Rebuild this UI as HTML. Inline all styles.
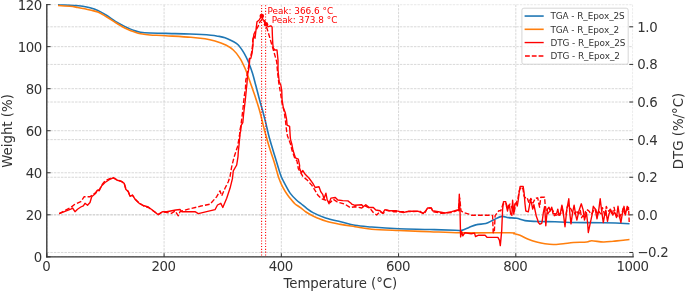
<!DOCTYPE html><html><head><meta charset="utf-8"><title>TGA / DTG</title><style>html,body{margin:0;padding:0;background:#fff}svg{display:block}</style></head><body><svg width="685" height="291" viewBox="0 0 685 291">
<rect width="685" height="291" fill="#fff"/>
<defs><clipPath id="ax"><rect x="46.85" y="4.6" width="586.2" height="252.25"/></clipPath></defs>
<g stroke="#c4c4c4" stroke-width="0.67" stroke-dasharray="2.46 1.07" fill="none" clip-path="url(#ax)">
<line x1="46.85" y1="4.6" x2="46.85" y2="256.85"/>
<line x1="164.09" y1="4.6" x2="164.09" y2="256.85"/>
<line x1="281.33" y1="4.6" x2="281.33" y2="256.85"/>
<line x1="398.57" y1="4.6" x2="398.57" y2="256.85"/>
<line x1="515.81" y1="4.6" x2="515.81" y2="256.85"/>
<line x1="633.05" y1="4.6" x2="633.05" y2="256.85"/>
<line x1="46.8" y1="256.85" x2="633" y2="256.85"/>
<line x1="46.8" y1="214.81" x2="633" y2="214.81"/>
<line x1="46.8" y1="172.77" x2="633" y2="172.77"/>
<line x1="46.8" y1="130.73" x2="633" y2="130.73"/>
<line x1="46.8" y1="88.69" x2="633" y2="88.69"/>
<line x1="46.8" y1="46.65" x2="633" y2="46.65"/>
<line x1="46.8" y1="4.61" x2="633" y2="4.61"/>
<line x1="46.8" y1="252.47" x2="633" y2="252.47"/>
<line x1="46.8" y1="214.86" x2="633" y2="214.86"/>
<line x1="46.8" y1="177.25" x2="633" y2="177.25"/>
<line x1="46.8" y1="139.64" x2="633" y2="139.64"/>
<line x1="46.8" y1="102.02" x2="633" y2="102.02"/>
<line x1="46.8" y1="64.41" x2="633" y2="64.41"/>
<line x1="46.8" y1="26.80" x2="633" y2="26.80"/>
</g>
<path d="M58.0,4.9 C59.0,4.9 62.0,5.0 64.0,5.0 C66.0,5.0 68.0,5.1 70.0,5.2 C72.0,5.3 73.9,5.4 76.0,5.6 C78.1,5.8 80.4,5.8 82.7,6.2 C85.0,6.6 87.5,7.1 90.0,7.8 C92.5,8.5 95.1,9.3 97.8,10.5 C100.5,11.7 103.1,13.2 106.0,15.0 C108.9,16.8 112.7,19.7 115.4,21.4 C118.1,23.1 119.9,23.9 122.0,25.0 C124.1,26.1 126.0,27.1 128.0,28.0 C130.0,28.9 131.9,29.8 134.0,30.5 C136.1,31.2 137.8,31.8 140.5,32.2 C143.2,32.6 145.8,32.8 150.0,33.0 C154.2,33.2 158.9,33.2 165.6,33.4 C172.3,33.6 182.4,33.7 190.0,34.0 C197.6,34.3 206.3,34.8 211.0,35.2 C215.7,35.6 215.7,35.8 218.0,36.2 C220.3,36.6 222.6,36.9 225.0,37.7 C227.4,38.5 230.5,40.0 232.7,41.2 C234.9,42.4 236.4,43.0 238.3,45.0 C240.2,47.0 242.5,50.5 244.2,53.3 C245.9,56.1 246.9,58.4 248.3,61.7 C249.7,65.0 251.3,69.4 252.5,73.3 C253.7,77.2 254.5,80.5 255.7,85.0 C256.9,89.5 258.4,95.4 259.6,100.0 C260.8,104.6 262.0,108.3 263.1,112.5 C264.2,116.7 265.4,121.3 266.3,125.1 C267.2,128.8 267.7,131.4 268.6,135.0 C269.5,138.6 270.7,142.6 271.9,146.6 C273.1,150.6 274.6,155.4 275.7,159.1 C276.8,162.8 277.8,166.1 278.7,169.0 C279.6,171.9 280.2,174.2 281.3,176.8 C282.4,179.4 283.6,181.6 285.1,184.3 C286.6,187.0 288.2,190.5 290.1,193.1 C292.0,195.7 294.5,198.2 296.4,200.0 C298.3,201.8 299.7,202.6 301.4,204.0 C303.1,205.4 304.8,206.9 306.7,208.3 C308.6,209.7 309.9,211.0 313.0,212.6 C316.1,214.2 321.0,216.5 325.6,218.0 C330.2,219.5 335.8,220.6 340.7,221.8 C345.6,223.0 349.8,224.4 355.0,225.3 C360.2,226.2 364.4,226.4 371.7,227.0 C379.0,227.6 389.0,228.3 398.7,228.7 C408.4,229.1 420.6,229.2 430.0,229.5 C439.4,229.8 449.7,230.2 455.0,230.3 C460.3,230.5 459.4,230.9 461.7,230.4 C464.0,229.9 466.5,228.5 469.0,227.5 C471.5,226.5 473.9,225.2 476.7,224.6 C479.5,223.9 483.0,224.4 485.8,223.6 C488.6,222.8 490.7,221.2 493.3,220.0 C495.9,218.8 499.2,216.8 501.7,216.4 C504.2,216.0 505.8,217.3 508.3,217.6 C510.8,217.9 513.9,217.8 516.7,218.3 C519.5,218.8 521.4,220.1 525.0,220.6 C528.6,221.1 533.3,221.3 538.3,221.5 C543.3,221.7 549.7,221.6 555.0,221.8 C560.3,222.0 562.0,222.3 570.0,222.5 C578.0,222.7 593.4,222.6 603.3,222.8 C613.2,223.0 625.1,223.5 629.5,223.7" fill="none" stroke="#1f77b4" stroke-width="1.6" stroke-linejoin="round"/>
<path d="M58.0,5.5 C60.0,5.6 66.7,6.0 70.0,6.3 C73.3,6.6 74.4,6.9 77.7,7.5 C81.0,8.1 86.7,9.2 90.0,10.0 C93.3,10.8 95.1,10.9 97.8,12.0 C100.5,13.1 103.1,14.8 106.0,16.5 C108.9,18.2 112.7,20.8 115.4,22.5 C118.1,24.2 119.9,25.3 122.0,26.5 C124.1,27.7 126.0,28.6 128.0,29.5 C130.0,30.4 131.9,31.1 134.0,31.8 C136.1,32.5 137.8,33.2 140.5,33.7 C143.2,34.2 145.8,34.7 150.0,35.0 C154.2,35.3 158.8,35.3 165.6,35.7 C172.4,36.1 184.2,36.7 190.8,37.2 C197.4,37.7 201.0,38.2 205.0,38.8 C209.0,39.4 211.5,40.0 215.0,41.0 C218.5,42.0 222.8,43.5 225.8,45.0 C228.9,46.5 230.9,47.8 233.3,50.0 C235.7,52.2 238.1,55.2 240.0,58.3 C241.9,61.3 243.3,64.4 245.0,68.3 C246.7,72.2 248.6,77.8 250.0,81.7 C251.4,85.7 252.5,89.0 253.6,92.0 C254.7,95.0 255.2,96.6 256.3,100.0 C257.4,103.4 259.0,108.3 260.1,112.5 C261.2,116.7 262.2,121.3 263.2,125.1 C264.1,128.8 264.8,131.4 265.8,135.0 C266.8,138.6 267.9,142.6 269.1,146.6 C270.3,150.6 272.0,155.4 273.2,159.1 C274.4,162.8 275.3,165.8 276.2,169.0 C277.1,172.2 277.7,175.0 278.8,178.0 C279.9,181.0 281.1,184.0 282.6,186.8 C284.1,189.6 286.0,192.7 287.6,195.0 C289.2,197.3 290.8,199.1 292.0,200.6 C293.2,202.1 293.7,202.8 295.1,204.0 C296.5,205.2 298.7,206.3 300.5,207.6 C302.3,208.9 303.9,210.6 306.0,212.0 C308.1,213.4 309.7,214.4 313.0,215.9 C316.3,217.4 321.0,219.5 325.6,220.9 C330.2,222.3 335.8,223.4 340.7,224.4 C345.6,225.4 349.8,225.9 355.0,226.7 C360.2,227.5 364.4,228.6 371.7,229.2 C379.0,229.8 389.0,230.1 398.7,230.5 C408.4,230.9 419.5,231.3 430.0,231.7 C440.5,232.1 448.4,232.6 461.7,232.8 C475.0,233.0 500.9,232.7 509.6,232.8 C518.3,232.9 512.3,233.2 514.0,233.6 C515.7,234.0 517.6,234.4 520.0,235.3 C522.4,236.2 525.5,238.1 528.3,239.2 C531.1,240.3 533.9,241.2 536.7,242.0 C539.5,242.8 542.2,243.4 545.0,243.8 C547.8,244.2 550.2,244.5 553.3,244.5 C556.3,244.5 560.0,244.0 563.3,243.7 C566.6,243.4 569.4,242.8 573.3,242.5 C577.2,242.2 583.6,242.3 586.7,242.0 C589.8,241.7 588.9,240.8 591.7,240.8 C594.5,240.8 599.7,241.9 603.3,242.0 C606.9,242.1 610.0,241.5 613.3,241.2 C616.6,240.9 620.6,240.6 623.3,240.3 C626.0,240.0 628.5,239.6 629.5,239.5" fill="none" stroke="#ff7f0e" stroke-width="1.6" stroke-linejoin="round"/>
<polyline points="59.2,213.7 65.0,211.3 70.8,209.2 72.5,208.0 75.0,211.7 77.5,209.2 80.8,207.0 83.3,205.8 85.0,203.3 87.5,205.3 90.0,202.5 91.7,196.7 95.8,193.3 97.5,190.0 99.2,190.8 101.7,185.8 105.0,182.5 109.2,179.7 113.3,177.8 116.7,180.0 121.7,181.7 124.2,183.3 125.8,189.2 128.3,191.7 130.0,196.3 132.5,195.0 135.0,199.2 139.2,203.3 143.3,205.5 148.3,207.0 153.3,210.8 158.3,214.7 162.5,211.7 166.7,211.7 175.8,210.0 180.0,209.5 181.7,211.7 195.0,211.7 198.3,213.7 215.0,209.7 217.5,205.0 220.8,203.3 222.8,207.5 226.7,198.3 230.0,188.3 232.5,178.3 233.3,170.8 236.7,165.0 238.0,156.7 238.3,151.7 239.2,143.3 240.0,135.0 239.4,136.0 240.6,131.4 241.3,125.1 242.8,122.6 243.5,115.0 244.4,107.5 245.3,100.0 246.3,90.0 247.0,83.3 247.5,75.0 249.2,66.7 249.7,59.2 250.8,58.3 252.0,53.3 253.0,45.0 253.0,40.0 253.7,35.8 255.0,38.3 255.8,31.7 257.0,21.7 259.2,20.0 261.3,16.3 263.3,20.0 265.0,20.8 265.8,24.7 268.3,26.7 270.8,25.8 272.1,27.0 272.4,36.0 272.8,44.0 273.3,48.0 274.7,50.0 277.0,50.0 278.0,60.0 278.0,70.0 279.2,81.7 280.8,85.0 281.7,90.0 282.1,100.0 283.3,107.5 285.2,112.5 286.5,118.8 287.1,125.1 289.6,126.4 290.2,136.0 290.5,139.4 291.8,144.0 293.0,150.3 295.4,157.8 298.3,159.1 299.6,165.4 299.5,168.0 301.4,173.0 302.7,170.5 305.2,174.3 308.9,178.0 312.7,183.1 315.2,187.5 319.0,186.8 320.9,191.9 322.7,194.4 324.0,198.8 325.9,193.1 327.1,199.4 329.0,203.8 330.9,198.1 335.3,197.5 337.8,200.0 342.8,200.6 347.9,200.9 351.0,203.2 351.7,204.2 355.0,205.3 361.7,204.7 363.3,206.7 365.8,204.7 369.2,207.5 373.3,207.5 375.8,210.0 380.0,210.8 382.5,213.3 385.0,209.7 388.3,210.8 396.7,210.8 403.3,212.5 408.3,211.3 418.3,211.3 423.3,213.3 425.8,210.8 427.5,208.0 431.3,208.0 432.5,210.8 438.3,211.7 445.0,213.0 451.7,211.7 457.5,210.0 458.7,210.8 459.3,194.2 460.0,210.0 460.6,236.9 461.7,231.6 462.8,235.9 464.9,232.7 471.3,233.7 474.5,233.1 475.5,236.5 478.7,235.2 485.1,235.2 487.2,237.4 497.9,237.4 499.4,240.1 500.3,245.6 501.7,230.6 502.6,209.3 503.5,201.6 505.7,201.6 506.5,206.6 507.5,211.0 508.6,205.3 509.8,207.8 510.7,214.1 511.9,215.4 512.6,200.3 513.8,214.1 514.8,204.1 516.3,202.8 517.3,206.0 518.2,200.3 519.1,192.8 520.1,186.5 523.2,186.5 524.1,192.8 524.9,202.8 525.8,211.0 528.3,211.9 529.5,205.3 530.5,199.1 531.7,204.1 532.7,209.1 533.9,204.7 535.2,211.0 536.4,216.6 537.7,220.0 538.3,222.5 540.0,224.2 541.7,223.3 542.4,220.0 543.3,212.9 544.6,206.6 545.2,215.4 545.8,225.8 546.5,217.9 547.5,209.1 549.0,207.2 550.2,211.0 551.7,207.2 553.0,213.5 556.5,213.9 557.8,209.1 559.0,215.4 560.0,215.1 561.9,205.1 563.1,211.3 565.0,226.7 566.9,208.8 568.8,198.8 570.0,215.1 571.0,223.9 572.6,212.6 574.1,205.1 575.7,215.1 576.9,220.1 578.8,211.3 581.3,203.8 583.2,210.1 584.5,220.1 586.4,212.6 587.6,222.6 588.3,232.5 590.1,223.9 592.0,215.1 593.3,206.3 595.2,208.8 597.0,218.9 598.9,208.8 600.2,198.8 601.4,208.8 603.3,222.6 604.6,215.1 605.8,210.1 607.5,221.4 609.0,213.9 610.9,210.1 612.7,215.1 614.6,212.0 616.5,217.6 618.0,206.3 619.3,215.1 620.9,222.6 622.5,212.6 624.0,206.3 625.3,215.1 627.2,206.3 628.8,210.1" fill="none" stroke="#ff0000" stroke-width="1.38" stroke-linejoin="round"/>
<polyline points="59.2,213.7 65.0,210.5 70.8,207.5 74.2,204.7 80.8,201.7 84.2,196.7 90.0,196.7 92.5,194.7 95.8,192.5 97.5,189.5 99.2,190.0 101.7,185.0 105.0,180.8 109.2,178.8 112.5,177.3 116.7,179.5 121.7,181.5 124.2,183.5 125.8,188.5 128.3,191.5 130.0,196.0 132.5,195.3 135.0,199.0 139.2,203.0 143.3,205.8 148.3,207.5 153.3,211.0 158.3,214.3 162.5,211.9 171.7,213.3 175.0,211.0 178.3,215.8 180.0,211.7 188.3,209.2 200.0,206.3 210.0,204.2 216.7,196.7 220.0,190.8 221.7,195.8 225.0,188.3 228.3,181.7 230.0,176.7 231.7,166.7 234.2,156.7 237.5,146.7 239.5,136.0 240.0,130.0 241.0,125.0 242.0,116.7 243.2,106.7 244.2,96.7 245.5,88.0 245.8,80.0 247.0,75.0 248.6,66.7 249.2,59.2 250.4,57.0 251.5,53.3 252.6,45.0 252.8,40.0 254.0,34.0 256.0,30.0 258.0,26.7 260.0,21.7 262.5,19.2 264.5,22.0 265.8,25.0 267.5,30.0 269.2,35.8 271.0,42.0 272.5,47.0 274.2,53.0 276.7,61.7 277.5,71.7 278.8,83.0 280.0,90.0 280.8,95.0 282.0,103.0 284.2,111.7 285.5,121.0 286.7,131.7 287.5,136.0 288.8,139.4 290.5,144.0 292.0,150.3 294.6,157.8 297.0,161.0 298.3,168.6 302.7,176.2 307.7,180.6 312.1,185.6 315.2,190.6 317.7,195.0 321.5,198.8 325.3,200.0 330.3,202.5 333.4,199.4 337.2,201.9 345.0,204.2 350.0,207.5 355.0,206.7 361.7,208.0 365.0,205.8 370.0,208.3 373.3,212.5 376.7,215.0 380.0,211.7 383.3,213.3 386.7,210.0 393.3,211.7 403.3,211.7 420.0,211.3 424.2,214.2 427.5,208.0 431.3,208.0 433.3,211.7 441.7,213.3 451.7,212.5 458.3,210.0 459.7,198.0 461.0,210.8 463.3,212.5 469.0,214.2 471.7,215.3 491.7,215.3 492.6,215.7 493.2,232.7 494.3,232.7 495.1,215.7 498.7,210.8 500.8,210.8 503.0,204.0 506.0,203.0 508.0,209.0 510.0,204.0 512.0,208.0 514.0,212.0 516.0,204.0 518.0,198.0 519.5,190.0 521.0,187.0 523.0,189.0 524.0,196.0 525.1,197.8 527.0,197.2 528.9,202.8 530.8,198.4 533.0,203.0 535.2,198.4 537.7,197.8 538.9,204.1 539.6,207.2 540.8,197.2 544.6,197.2 545.2,205.3 546.5,211.3 547.8,213.8 549.1,211.9 550.4,211.1 551.7,208.8 553.0,210.7 554.3,215.7 555.6,214.6 556.9,216.5 558.2,214.2 559.5,214.1 560.8,213.4 562.1,206.8 563.4,213.9 564.7,214.4 566.0,214.6 567.3,207.0 568.6,205.0 569.9,207.4 571.2,209.5 572.5,212.6 573.8,212.2 575.1,214.1 576.4,210.5 577.7,212.9 579.0,213.8 580.3,210.4 581.6,217.7 582.9,215.6 584.2,217.3 585.5,211.4 586.8,209.5 588.1,210.4 589.4,211.5 590.7,214.3 592.0,213.6 593.3,211.1 594.6,208.7 595.9,209.6 597.2,215.8 598.5,210.4 599.8,212.7 601.1,213.9 602.4,207.6 603.7,211.3 605.0,216.6 606.3,206.4 607.6,209.7 608.9,211.3 610.2,209.2 611.5,213.2 612.8,212.3 614.1,207.3 615.4,213.9 616.7,215.0 618.0,216.2 619.3,218.3 620.6,215.0 621.9,213.4 623.2,208.1 624.5,213.4 625.8,210.5 627.1,210.3 628.4,207.4 628.6,208.0 629.2,222.0" fill="none" stroke="#ff0000" stroke-width="1.38" stroke-dasharray="4.8 2.05" stroke-linejoin="round"/>
<line x1="261.6" y1="5.2" x2="261.6" y2="256" stroke="#ff0000" stroke-width="1.05" stroke-dasharray="1.1 1.7"/>
<line x1="265.6" y1="5.2" x2="265.6" y2="256" stroke="#ff0000" stroke-width="1.05" stroke-dasharray="1.1 1.7"/>
<circle cx="261.8" cy="16.1" r="2.3" fill="#ff0000"/>
<circle cx="266.0" cy="24.3" r="2.2" fill="#ff0000"/>
<g stroke="#333" fill="none">
<line x1="46.8" y1="3.9" x2="46.8" y2="257.6" stroke-width="1.35"/>
<line x1="46.1" y1="256.85" x2="633.7" y2="256.85" stroke-width="1.35"/>
<line x1="46.85" y1="256.85" x2="46.85" y2="253.3" stroke-width="1"/>
<line x1="164.09" y1="256.85" x2="164.09" y2="253.3" stroke-width="1"/>
<line x1="281.33" y1="256.85" x2="281.33" y2="253.3" stroke-width="1"/>
<line x1="398.57" y1="256.85" x2="398.57" y2="253.3" stroke-width="1"/>
<line x1="515.81" y1="256.85" x2="515.81" y2="253.3" stroke-width="1"/>
<line x1="633.05" y1="256.85" x2="633.05" y2="253.3" stroke-width="1"/>
<line x1="46.8" y1="256.85" x2="50.6" y2="256.85" stroke-width="1"/>
<line x1="46.8" y1="214.81" x2="50.6" y2="214.81" stroke-width="1"/>
<line x1="46.8" y1="172.77" x2="50.6" y2="172.77" stroke-width="1"/>
<line x1="46.8" y1="130.73" x2="50.6" y2="130.73" stroke-width="1"/>
<line x1="46.8" y1="88.69" x2="50.6" y2="88.69" stroke-width="1"/>
<line x1="46.8" y1="46.65" x2="50.6" y2="46.65" stroke-width="1"/>
<line x1="46.8" y1="4.61" x2="50.6" y2="4.61" stroke-width="1"/>
<line x1="629.3" y1="252.47" x2="633.2" y2="252.47" stroke-width="1"/>
<line x1="629.3" y1="214.86" x2="633.2" y2="214.86" stroke-width="1"/>
<line x1="629.3" y1="177.25" x2="633.2" y2="177.25" stroke-width="1"/>
<line x1="629.3" y1="139.64" x2="633.2" y2="139.64" stroke-width="1"/>
<line x1="629.3" y1="102.02" x2="633.2" y2="102.02" stroke-width="1"/>
<line x1="629.3" y1="64.41" x2="633.2" y2="64.41" stroke-width="1"/>
<line x1="629.3" y1="26.80" x2="633.2" y2="26.80" stroke-width="1"/>
</g>
<g font-family="DejaVu Sans, Liberation Sans, sans-serif" font-size="13.33" fill="#333">
<text x="46.25" y="270.8" text-anchor="middle" letter-spacing="-0.45">0</text>
<text x="163.49" y="270.8" text-anchor="middle" letter-spacing="-0.45">200</text>
<text x="280.73" y="270.8" text-anchor="middle" letter-spacing="-0.45">400</text>
<text x="397.97" y="270.8" text-anchor="middle" letter-spacing="-0.45">600</text>
<text x="515.21" y="270.8" text-anchor="middle" letter-spacing="-0.45">800</text>
<text x="632.45" y="270.8" text-anchor="middle" letter-spacing="-0.45">1000</text>
<text x="41.9" y="262.2" text-anchor="end" letter-spacing="-0.45">0</text>
<text x="41.9" y="220.2" text-anchor="end" letter-spacing="-0.45">20</text>
<text x="41.9" y="178.2" text-anchor="end" letter-spacing="-0.45">40</text>
<text x="41.9" y="136.1" text-anchor="end" letter-spacing="-0.45">60</text>
<text x="41.9" y="94.1" text-anchor="end" letter-spacing="-0.45">80</text>
<text x="41.9" y="52.1" text-anchor="end" letter-spacing="-0.45">100</text>
<text x="41.9" y="10.0" text-anchor="end" letter-spacing="-0.45">120</text>
<text x="637.2" y="257.4" letter-spacing="-0.3">−0.2</text>
<text x="637.2" y="219.8" letter-spacing="-0.3">0.0</text>
<text x="637.2" y="182.2" letter-spacing="-0.3">0.2</text>
<text x="637.2" y="144.6" letter-spacing="-0.3">0.4</text>
<text x="637.2" y="107.0" letter-spacing="-0.3">0.6</text>
<text x="637.2" y="69.4" letter-spacing="-0.3">0.8</text>
<text x="637.2" y="31.8" letter-spacing="-0.3">1.0</text>
<text x="340.3" y="287.6" text-anchor="middle" letter-spacing="-0.1">Temperature (°C)</text>
<text transform="translate(12.2,131) rotate(-90)" text-anchor="middle">Weight (%)</text>
<text transform="translate(683.4,131) rotate(-90)" text-anchor="middle">DTG (%/°C)</text>
</g>
<g font-family="DejaVu Sans, Liberation Sans, sans-serif" font-size="8.89" fill="#ff0000">
<text x="267.4" y="13.8">Peak: 366.6 °C</text>
<text x="271.7" y="22.5">Peak: 373.8 °C</text>
</g>
<rect x="521.9" y="8.2" width="106.3" height="56.0" rx="2" ry="2" fill="#fff" fill-opacity="0.8" stroke="#ccc" stroke-width="0.8"/>
<line x1="524.6" y1="16.05" x2="543.7" y2="16.05" stroke="#1f77b4" stroke-width="1.6"/>
<line x1="524.6" y1="29.3" x2="543.7" y2="29.3" stroke="#ff7f0e" stroke-width="1.6"/>
<line x1="524.6" y1="42.55" x2="543.7" y2="42.55" stroke="#ff0000" stroke-width="1.38"/>
<line x1="524.6" y1="55.95" x2="543.7" y2="55.95" stroke="#ff0000" stroke-width="1.38" stroke-dasharray="4.8 2" stroke-dashoffset="-0.4"/>
<g font-family="DejaVu Sans, Liberation Sans, sans-serif" font-size="8.89" fill="#333">
<text x="550.4" y="19.2" letter-spacing="-0.06">TGA - R_Epox_2S</text>
<text x="550.4" y="32.5" letter-spacing="-0.06">TGA - R_Epox_2</text>
<text x="550.4" y="45.7" letter-spacing="-0.06">DTG - R_Epox_2S</text>
<text x="550.4" y="59.1" letter-spacing="-0.06">DTG - R_Epox_2</text>
</g>
</svg></body></html>
